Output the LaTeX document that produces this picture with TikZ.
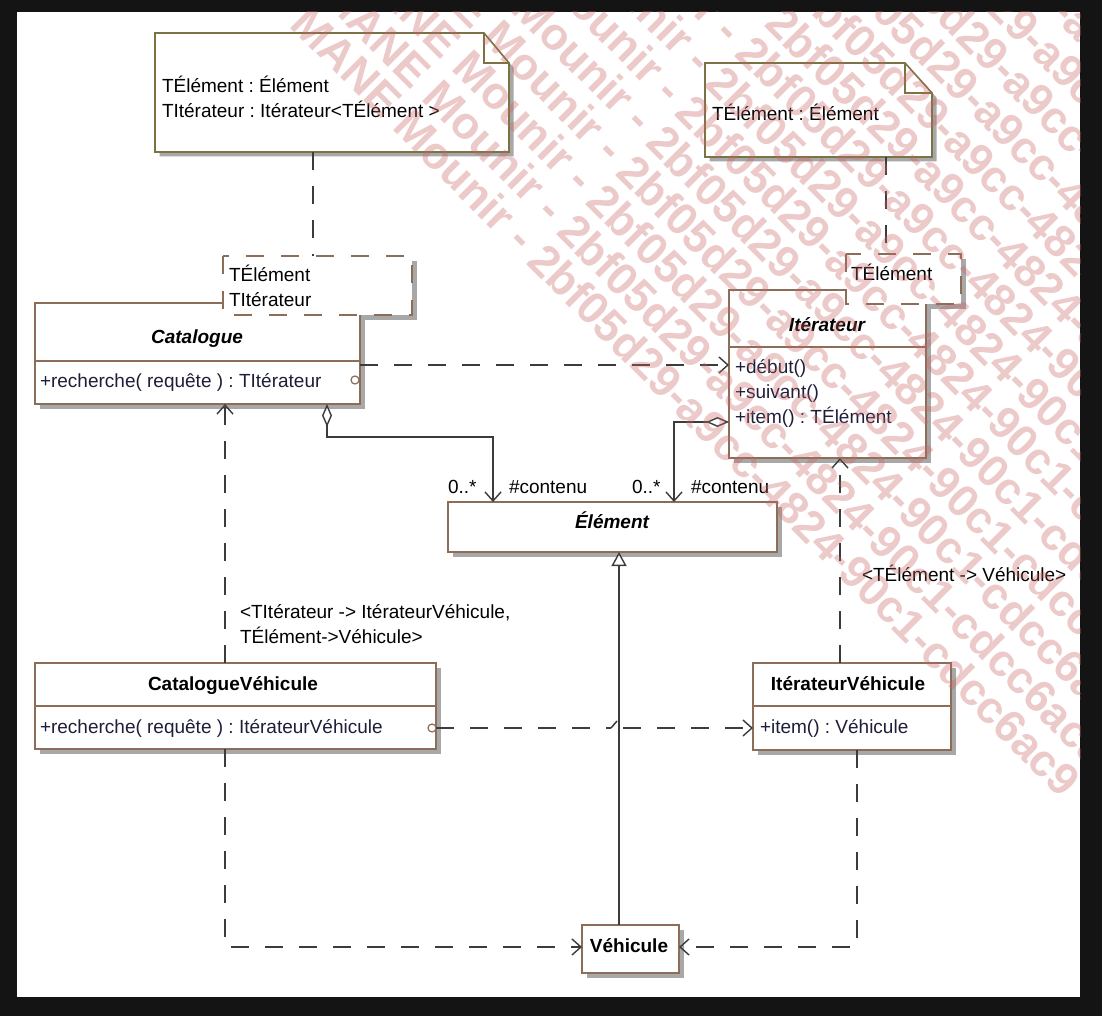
\documentclass[tikz,border=0pt]{standalone}
\usepackage{fontspec}
\setmainfont{Liberation Sans}
\usetikzlibrary{arrows.meta,shadows}
\frenchspacing
\definecolor{framec}{HTML}{141414}
\definecolor{clsc}{HTML}{8C6E58}
\definecolor{notec}{HTML}{7D7244}
\definecolor{shadowc}{HTML}{A8A8A8}
\definecolor{linec}{HTML}{3C3C3C}
\definecolor{opc}{HTML}{1E1E3A}
\definecolor{wmc}{HTML}{C86464}
\newcommand\dfont{\fontsize{19}{23}\selectfont\frenchspacing}
\tikzset{
  every node/.style={inner sep=0pt, outer sep=0pt},
  lbl/.style={font=\dfont, anchor=base west, text=black},
  oplbl/.style={lbl, text=opc},
  bname/.style={font=\dfont\bfseries, anchor=base, text=black},
  iname/.style={font=\dfont\bfseries\itshape, anchor=base, text=black},
  clsbox/.style={rectangle, draw=clsc, line width=1.8pt, fill=white, anchor=north west,
     drop shadow={shadow xshift=4.5pt, shadow yshift=-4.5pt, fill=shadowc, opacity=1}},
  area/.style={rectangle, anchor=north west},
  tplbox/.style={draw=clsc, line width=1.8pt, dash pattern=on 18pt off 17pt, fill=white},
  notebox/.style={draw=notec, line width=1.6pt, fill=white, line join=miter},
  shadowfill/.style={fill=shadowc, transform canvas={xshift=4.5pt, yshift=-4.5pt}},
  conn/.style={draw=linec, line width=1.5pt},
  dep/.style={conn, dash pattern=on 18pt off 16pt},
  opentip/.style={-{Straight Barb[length=9pt,width=16pt,line width=1.4pt]}},
  gentip/.style={-{Triangle[length=14pt,width=15pt,line width=1.4pt,fill=white]}},
  aggtip/.style={{Diamond[length=23pt,width=10pt,line width=1.4pt,fill=white]}-{Straight Barb[length=9pt,width=16pt,line width=1.4pt]}},
  wm/.style={font=\fontsize{45}{45}\selectfont\bfseries, text=wmc, opacity=0.34, rotate=-45, anchor=west},
  port/.style={circle, draw=clsc, line width=1.2pt, fill=white, minimum size=8pt},
}
\begin{document}
\begin{tikzpicture}[x=1pt, y=-1pt]
\useasboundingbox (0,0) rectangle (1102,1016);
\fill[framec] (0,0) rectangle (1102,1016);
\fill[white] (17,12) rectangle (1080,997);

% ---------- helper coordinates
\coordinate (x313) at (313,0);
\coordinate (x886) at (886,0);
\coordinate (ydep) at (0,365);
\coordinate (xa1) at (327,0);
\coordinate (ya1) at (0,437);
\coordinate (xa2) at (493,0);
\coordinate (ya2) at (0,422);
\coordinate (xa3) at (674,0);
\coordinate (xg) at (619,0);
\coordinate (xb1) at (225,0);
\coordinate (xb2) at (840,0);
\coordinate (xb4) at (857,0);
\coordinate (yv) at (0,947);
\coordinate (hopA) at (611,728);
\coordinate (hopB) at (617,721);
\coordinate (hopC) at (623,728);

% ---------- notes
\node[area, minimum width=354pt, minimum height=119pt] (n1) at (155,33) {};
\fill[shadowfill] (n1.north west) -- ([xshift=-25pt]n1.north east) -- ([yshift=-30pt]n1.north east) -- (n1.south east) -- (n1.south west) -- cycle;
\filldraw[notebox] (n1.north west) -- ([xshift=-25pt]n1.north east) -- ([yshift=-30pt]n1.north east) -- (n1.south east) -- (n1.south west) -- cycle;
\draw[notec, line width=1.4pt] ([xshift=-25pt]n1.north east) -- ([xshift=-25pt,yshift=-30pt]n1.north east) -- ([yshift=-30pt]n1.north east);
\node[lbl] (n1a) at (162,93) {TÉlément : Élément};
\node[lbl] (n1b) at (162,118) {TItérateur : Itérateur<TÉlément >};

\node[area, minimum width=227pt, minimum height=94pt] (n2) at (705,63) {};
\fill[shadowfill] (n2.north west) -- ([xshift=-27pt]n2.north east) -- ([yshift=-30pt]n2.north east) -- (n2.south east) -- (n2.south west) -- cycle;
\filldraw[notebox] (n2.north west) -- ([xshift=-27pt]n2.north east) -- ([yshift=-30pt]n2.north east) -- (n2.south east) -- (n2.south west) -- cycle;
\draw[notec, line width=1.4pt] ([xshift=-27pt]n2.north east) -- ([xshift=-27pt,yshift=-30pt]n2.north east) -- ([yshift=-30pt]n2.north east);
\node[lbl] (n2a) at (712,121) {TÉlément : Élément};

% ---------- template areas (shadows first)
\node[area, minimum width=189pt, minimum height=59pt] (tplC) at (223,256) {};
\node[area, minimum width=115pt, minimum height=50pt] (tplI) at (846,254) {};
\fill[shadowfill] (tplC.north west) rectangle (tplC.south east);
\fill[shadowfill] (tplI.north west) rectangle (tplI.south east);

% ---------- classes
\node[clsbox, minimum width=325pt, minimum height=101pt] (cat) at (35,303) {};
\draw[clsc, line width=1.8pt] ([yshift=-58pt]cat.north west) -- ([yshift=-58pt]cat.north east);
\node[clsbox, minimum width=197pt, minimum height=168pt] (itr) at (729,290) {};
\draw[clsc, line width=1.8pt] ([yshift=-57pt]itr.north west) -- ([yshift=-57pt]itr.north east);
\node[clsbox, minimum width=329pt, minimum height=50pt] (elm) at (448,502) {};
\node[clsbox, minimum width=401pt, minimum height=86pt] (catv) at (35,663) {};
\draw[clsc, line width=1.8pt] ([yshift=-43pt]catv.north west) -- ([yshift=-43pt]catv.north east);
\node[clsbox, minimum width=198pt, minimum height=87pt] (itv) at (753,663) {};
\draw[clsc, line width=1.8pt] ([yshift=-43pt]itv.north west) -- ([yshift=-43pt]itv.north east);
\node[clsbox, minimum width=97pt, minimum height=48pt] (veh) at (582,925) {};

% ---------- template boxes on top
\filldraw[tplbox] (tplC.north west) rectangle (tplC.south east);
\filldraw[tplbox] (tplI.north west) rectangle (tplI.south east);
\node[lbl] (tc1) at (229,281) {TÉlément};
\node[lbl] (tc2) at (229,306) {TItérateur};
\node[lbl] (ti1) at (851,280) {TÉlément};

% ---------- class texts
\node[iname] (catn) at (197,343) {Catalogue};
\node[oplbl] (catop) at (40,387) {+recherche( requête ) : TItérateur};
\node[iname] (itrn) at (827,331) {Itérateur};
\node[oplbl] (itro1) at (735,373) {+début()};
\node[oplbl] (itro2) at (735,398) {+suivant()};
\node[oplbl] (itro3) at (735,423) {+item() : TÉlément};
\node[iname] (elmn) at (612,528) {Élément};
\node[bname] (catvn) at (233,690) {CatalogueVéhicule};
\node[oplbl] (catvop) at (40,733) {+recherche( requête ) : ItérateurVéhicule};
\node[bname] (itvn) at (848,690) {ItérateurVéhicule};
\node[oplbl] (itvop) at (760,733) {+item() : Véhicule};
\node[bname] (vehn) at (629,952) {Véhicule};

\node[port] (p1) at (355,380) {};
\node[port] (p2) at (432,728) {};

% ---------- connectors
\draw[dep] (n1.south -| x313) -- (tplC.north -| x313);
\draw[dep] (n2.south -| x886) -- (tplI.north -| x886);
\draw[dep, opentip] (cat.east |- ydep) -- (itr.west |- ydep);
\draw[conn, aggtip] (cat.south -| xa1) -- (xa1 |- ya1) -- (xa2 |- ya1) -- (elm.north -| xa2);
\draw[conn, aggtip] (itr.west |- ya2) -- (xa3 |- ya2) -- (elm.north -| xa3);
\draw[conn, gentip] (veh.north -| xg) -- (elm.south -| xg);
\draw[dep, opentip] (catv.north -| xb1) -- (cat.south -| xb1);
\draw[dep, opentip] (itv.north -| xb2) -- (itr.south -| xb2);
\draw[dep] (p2.east) -- (hopA);
\draw[conn] (hopA) -- (hopB);
\draw[dep, opentip] (hopC) -- (itv.west |- p2);
\draw[dep, opentip] (catv.south -| xb1) -- (xb1 |- yv) -- (veh.west |- yv);
\draw[dep, opentip] (itv.south -| xb4) -- (xb4 |- yv) -- (veh.east |- yv);

% ---------- connector labels
\node[lbl] (m1) at (448,493) {0..*};
\node[lbl] (r1) at (509,493) {\#contenu};
\node[lbl] (m2) at (632,493) {0..*};
\node[lbl] (r2) at (691,493) {\#contenu};
\node[lbl] (b1a) at (240,618) {<TItérateur -> ItérateurVéhicule,};
\node[lbl] (b1b) at (240,643) {TÉlément->Véhicule>};
\node[lbl] (b2) at (862,581) {<TÉlément -> Véhicule>};

% ---------- watermark
\begin{scope}
\clip (17,12) rectangle (1080,997);
\foreach \m in {0,...,14}{
  \node[wm] (wm\m) at ({300+29.7*\m},{15-29.7*\m}) {MANE Mounir - 2bf05d29-a9cc-4824-90c1-cdcc6ac9};
}
\end{scope}
\end{tikzpicture}
\end{document}
